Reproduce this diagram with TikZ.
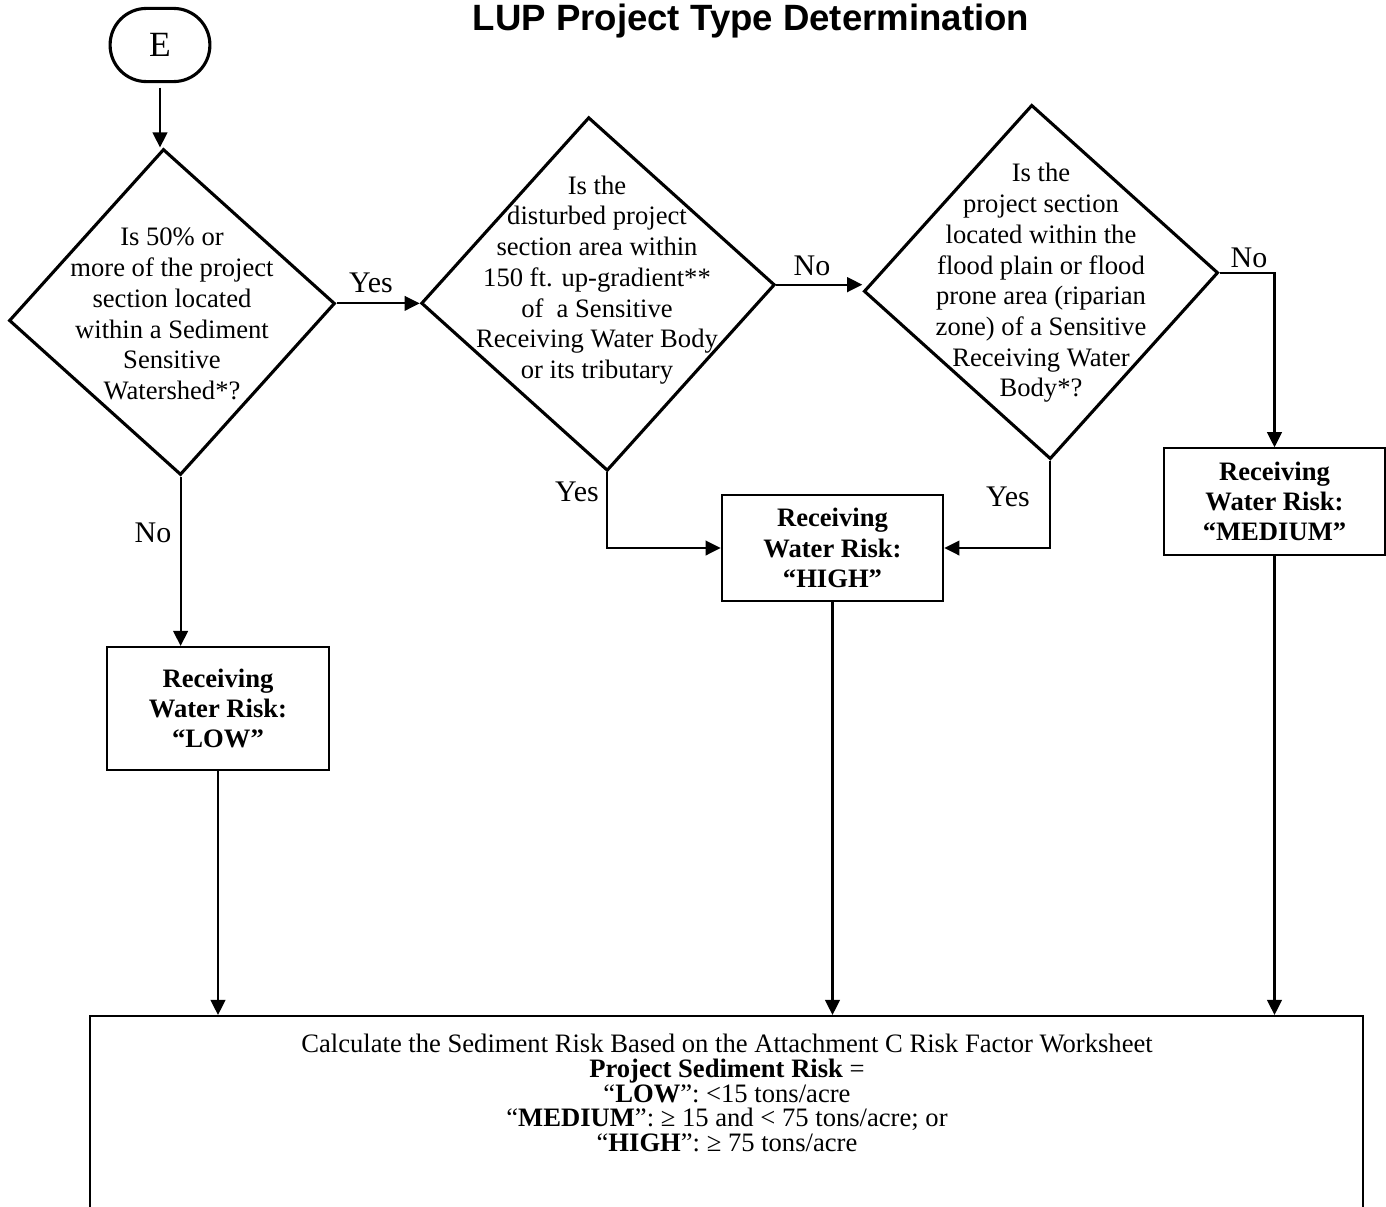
\documentclass[tikz,border=0pt]{standalone}
\usepackage{fontspec}
\setmainfont{Liberation Serif}
\newfontfamily\titlefont{Liberation Sans}
\usetikzlibrary{shapes.geometric,arrows.meta}
\begin{document}
\begin{tikzpicture}[x=0.451pt,y=-0.451pt,>={Triangle[length=6.8pt,width=6.6pt]},
    start/.style ={rectangle, draw, line width=1.4pt, rounded corners=16.4pt, minimum width=45pt, minimum height=33pt, font=\fontsize{16}{19}\selectfont},
    question/.style ={diamond, draw, line width=1.4pt, inner sep=0pt, minimum size=#1, rotate=3},
    qtext/.style ={align=center, inner sep=0pt, font=\fontsize{12}{13.85}\selectfont},
    risk/.style ={rectangle, draw, line width=0.9pt, minimum width=100pt, minimum height=48pt, align=center, font=\bfseries\fontsize{12}{13.6}\selectfont},
    answer/.style ={inner sep=0pt, font=\fontsize{13.5}{16}\selectfont},
    link/.style ={line width=0.95pt}]
   \useasboundingbox (0,0) rectangle (1386,1207);
   \node[font=\titlefont\bfseries\fontsize{16.5}{20}\selectfont] (title) at (751,21) {LUP Project Type Determination};
   \node[start] (E) at (160,45) {E};
   \node[question=147.2pt] (Q1) at (172,312) {};
   \node[question=159.7pt] (Q2) at (598,294) {};
   \node[question=160pt] (Q3) at (1041,282) {};
   \node[qtext] (t1) at (172,314) {Is 50\% or\\more of the project\\section located\\within a Sediment\\Sensitive\\Watershed*?};
   \node[qtext] (t2) at (597,280) {Is the\\disturbed project\\section area within\\150 ft. up-gradient**\\of\ \ a Sensitive\\Receiving Water Body\\or its tributary};
   \node[qtext] (t3) at (1041,283) {Is the\\project section\\located within the\\flood plain or flood\\prone area (riparian\\zone) of a Sensitive\\Receiving Water\\Body*?};
   \node[risk, minimum height=55.5pt] (low) at (218,708.5) {Receiving\\Water Risk:\\“LOW”};
   \node[risk] (high) at (832.5,548) {Receiving\\Water Risk:\\“HIGH”};
   \node[risk] (medium) at (1274.5,501.5) {Receiving\\Water Risk:\\“MEDIUM”};
   \node[draw, line width=0.9pt, minimum width=574pt, minimum height=120pt, anchor=north] (calc) at (726.5,1015) {};
   \node[qtext, font=\fontsize{12}{11.2}\selectfont] (calctext) at (727,1093) {Calculate the Sediment Risk Based on the Attachment C Risk Factor Worksheet\\\textbf{Project Sediment Risk} =\\“\textbf{LOW}”: <15 tons/acre\\“\textbf{MEDIUM}”: ≥ 15 and < 75 tons/acre; or\\“\textbf{HIGH}”: ≥ 75 tons/acre};
   \node[answer] (yes1) at (371,283) {Yes};
   \node[answer] (no1) at (153,533) {No};
   \node[answer] (yes2) at (577,492) {Yes};
   \node[answer] (no2) at (812,266) {No};
   \node[answer] (yes3) at (1008,497) {Yes};
   \node[answer] (no3) at (1249,258) {No};
   \draw[link, ->, shorten <=2pt] (E.south) to (E.south |- Q1.north);
   \draw[link, ->] (Q1.east) to (Q1.east -| Q2.west);
   \draw[link, ->] (Q2.east) to (Q2.east -| Q3.west);
   \draw[link, ->] (Q1.south) to (Q1.south |- low.north);
   \draw[link, ->] (Q2.south) |- (high.west);
   \draw[link, ->] (Q3.south) |- (high.east);
   \draw[link, ->] (Q3.east) -| (medium.north);
   \draw[link, ->] (low.south) to (low.south |- calc.north);
   \draw[link, ->] (high.south) to (high.south |- calc.north);
   \draw[link, ->] (medium.south) to (medium.south |- calc.north);
 \end{tikzpicture}
\end{document}
